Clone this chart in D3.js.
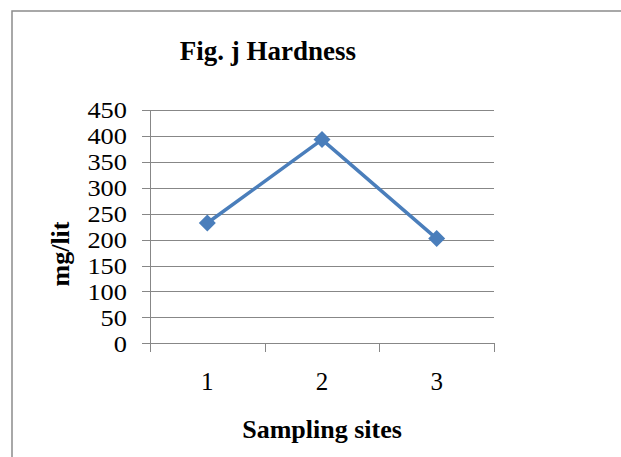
<!DOCTYPE html>
<html><head><meta charset="utf-8">
<script src="https://cdn.jsdelivr.net/npm/d3@7"></script>
<style>html,body{margin:0;padding:0;background:#fff;overflow:hidden}</style>
</head><body>
<script>
const title = "Fig. j Hardness";
const sites = ["1", "2", "3"];
const hardness = [232, 393, 202];
const yTicks = [0, 50, 100, 150, 200, 250, 300, 350, 400, 450];
const xTitle = "Sampling sites";
const yTitle = "mg/lit";

const W = 621, H = 457;
const svg = d3.select("body").append("svg").attr("width", W).attr("height", H)
  .style("display", "block");
svg.append("rect").attr("width", W).attr("height", H).attr("fill", "#fff");
svg.append("rect").attr("x", 12).attr("y", 11).attr("width", 800).attr("height", 600)
  .attr("fill", "none").attr("stroke", "#8c8c8c").attr("stroke-width", 1.5);

const x = d3.scaleBand().domain(sites).range([150, 494]).paddingInner(0).paddingOuter(0);
const y = d3.scaleLinear().domain([0, 450]).range([343.3, 110]);
const grid = "#878787";

// gridlines
svg.append("g").selectAll("line").data(yTicks).join("line")
  .attr("x1", 142).attr("x2", 494)
  .attr("y1", d => Math.round(y(d)) + 0.5).attr("y2", d => Math.round(y(d)) + 0.5)
  .attr("stroke", grid).attr("stroke-width", 1);

// y axis line
svg.append("line").attr("x1", 150.5).attr("x2", 150.5).attr("y1", y(450)).attr("y2", y(0))
  .attr("stroke", grid);

// x ticks
const xt = [150, ...sites.map(s => x(s) + x.bandwidth())];
svg.append("g").selectAll("line").data(xt).join("line")
  .attr("x1", d => Math.round(d) + 0.5).attr("x2", d => Math.round(d) + 0.5)
  .attr("y1", Math.round(y(0))).attr("y2", 352).attr("stroke", grid);

// y tick labels
svg.append("g").selectAll("text").data(yTicks).join("text")
  .attr("transform", d => `translate(127,${y(d) + 8.3}) scale(1.1,1)`)
  .attr("text-anchor", "end").attr("font-family", "Liberation Serif")
  .attr("font-size", 24).attr("fill", "#000").text(d => d);

// x tick labels
svg.append("g").selectAll("text").data(sites).join("text")
  .attr("x", d => x(d) + x.bandwidth() / 2).attr("y", 390)
  .attr("text-anchor", "middle").attr("font-family", "Liberation Serif")
  .attr("font-size", 25).attr("fill", "#000").text(d => d);

// title
svg.append("text").attr("x", 268).attr("y", 60).attr("text-anchor", "middle")
  .attr("font-family", "Liberation Serif").attr("font-weight", "bold")
  .attr("font-size", 27).text(title);

// axis titles
svg.append("text").attr("x", 322).attr("y", 438).attr("text-anchor", "middle")
  .attr("font-family", "Liberation Serif").attr("font-weight", "bold")
  .attr("font-size", 26).text(xTitle);
svg.append("text").attr("transform", "translate(69,254) rotate(-90)")
  .attr("text-anchor", "middle")
  .attr("font-family", "Liberation Serif").attr("font-weight", "bold")
  .attr("font-size", 26).text(yTitle);

// line
const color = "#4a7ebb";
const pts = sites.map((s, i) => [x(s) + x.bandwidth() / 2, y(hardness[i])]);
svg.append("path").datum(pts)
  .attr("d", d3.line()).attr("fill", "none").attr("stroke", color)
  .attr("stroke-width", 3.5).attr("stroke-linejoin", "round");
svg.append("g").selectAll("path").data(pts).join("path")
  .attr("transform", d => `translate(${d[0]},${d[1]})`)
  .attr("d", "M0,-8.5L8.5,0L0,8.5L-8.5,0Z").attr("fill", color);
</script>
</body></html>
